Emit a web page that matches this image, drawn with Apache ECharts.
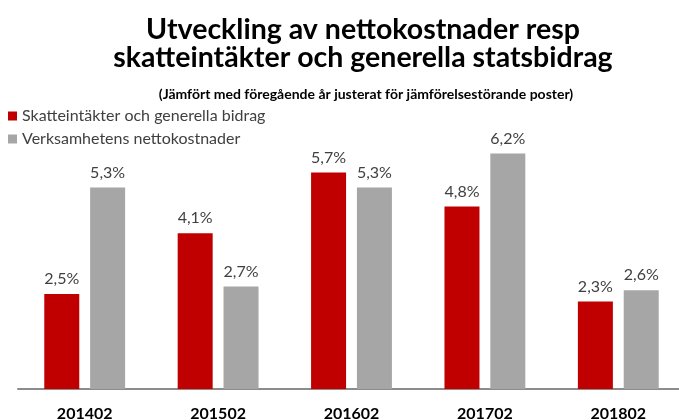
<!DOCTYPE html>
<html>
<head>
<meta charset="utf-8">
<script src="https://cdn.jsdelivr.net/npm/echarts@6/dist/echarts.min.js"></script>
<style>
  html, body { margin: 0; padding: 0; background: #fff; }
  #chart { width: 679px; height: 420px; }
</style>
</head>
<body>
<div id="chart"></div>
<script>
var categories = ['201402', '201502', '201602', '201702', '201802']
var skatter = [2.5, 4.1, 5.7, 4.8, 2.3]
var kostnader = [5.3, 2.7, 5.3, 6.2, 2.6]
var seriesNames = ['Skatteintäkter och generella bidrag', 'Verksamhetens nettokostnader']

var FONT = 'Lato'

function pct(p) {
    return p.value.toFixed(1).replace('.', ',') + '%'
}

var myChart = echarts.init(document.getElementById('chart'))

myChart.setOption({
    animation: false,
    textStyle: { fontFamily: FONT },
    title: [{
        text: 'Utveckling av nettokostnader resp\nskatteintäkter och generella statsbidrag',
        left: 358,
        top: 11,
        textAlign: 'center',
        textStyle: { fontFamily: FONT, fontSize: 28.5, fontWeight: 'bold', color: '#000', lineHeight: 28 }
    }, {
        text: '(Jämfört med föregående år justerat för jämförelsestörande poster)',
        left: 361,
        top: 81,
        textAlign: 'center',
        textStyle: { fontFamily: FONT, fontSize: 14, fontWeight: 'bold', color: '#000', lineHeight: 16 }
    }],
    legend: {
        orient: 'vertical',
        left: 8,
        top: 107,
        padding: 0,
        icon: 'rect',
        itemWidth: 9,
        itemHeight: 9,
        itemGap: 5,
        textStyle: { fontFamily: FONT, fontSize: 16, color: '#404040', lineHeight: 18 },
        data: seriesNames
    },
    // labels hang below the window edge a little, keep the grid where it is
    grid: { left: 18, right: -6, top: 123, bottom: 31, outerBoundsMode: 'none', containLabel: false },
    xAxis: {
        type: 'category',
        data: categories,
        axisLine: { lineStyle: { color: '#8c8c8c', width: 2 } },
        axisTick: { show: false },
        axisLabel: { fontFamily: FONT, fontSize: 16, fontWeight: 'bold', color: '#000', margin: 17 }
    },
    yAxis: {
        type: 'value',
        min: 0,
        max: 7,
        show: false,
        splitLine: { show: false }
    },
    series: [{
        name: seriesNames[0],
        type: 'bar',
        data: skatter,
        barWidth: 35,
        barGap: '31%',
        itemStyle: { color: '#c00000' },
        label: { show: true, position: 'top', distance: 7, formatter: pct, fontFamily: FONT, fontSize: 16, color: '#404040' }
    }, {
        name: seriesNames[1],
        type: 'bar',
        data: kostnader,
        barWidth: 35,
        itemStyle: { color: '#a6a6a6' },
        label: { show: true, position: 'top', distance: 7, formatter: pct, fontFamily: FONT, fontSize: 16, color: '#404040' }
    }]
})
</script>
</body>
</html>
